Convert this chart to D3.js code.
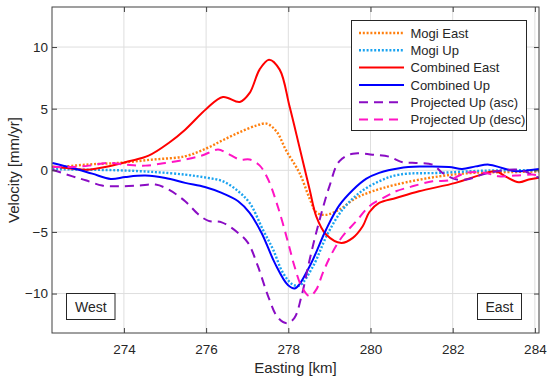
<!DOCTYPE html>
<html lang="en">

<head>
    <meta charset="UTF-8">
    <title>Velocity profile</title>
    <style>
        body { margin: 0; background: #fff; }
        text { font-family: "Liberation Sans", Arial, sans-serif; fill: #262626; }
    </style>
</head>

<body>
    <script type="text/javascript" src="https://cdn.jsdelivr.net/npm/d3@7"></script>
    <script type="text/javascript">
    // easting [km], velocity [mm/yr] pairs
    var mogiEast = [[272.26,0.2],[273.07,0.46],[273.88,0.6],[274.69,0.87],[275.49,1.14],[276.01,1.78],
        [276.41,2.45],[276.82,3.1],[277.22,3.63],[277.47,3.79],[277.71,3.16],[277.95,1.6],[278.27,-0.2],
        [278.52,-2.3],[278.68,-3.4],[278.9,-3.62],[279.24,-3.19],[279.65,-2.24],[280.05,-1.7],[280.62,-1.16],
        [281.67,-0.49],[282.48,-0.21],[283.28,-0.15],[284.1,-0.1]];

    var mogiUp = [[272.26,0.1],[273.07,0.05],[273.88,0.0],[274.69,-0.13],[275.49,-0.35],[276.01,-0.6],
        [276.41,-0.89],[276.78,-1.7],[277.06,-2.65],[277.38,-4.81],[277.63,-6.43],[277.87,-8.32],[278.1,-9.25],
        [278.27,-9.35],[278.6,-7.8],[278.95,-5.2],[279.32,-3.19],[279.73,-1.83],[280.21,-0.89],[280.7,-0.35],
        [281.67,-0.21],[282.88,-0.02],[284.1,0.0]];

    var combinedEast = [[272.26,0.3],[272.7,0.15],[273.1,0.05],[273.64,0.33],[274.12,0.73],[274.6,1.19],
        [275.09,2.22],[275.49,3.3],[276.01,5.0],[276.41,5.95],[276.82,5.55],[277.06,6.28],[277.3,8.17],
        [277.53,8.98],[277.79,8.17],[278.03,5.19],[278.27,1.9],[278.52,-1.57],[278.68,-3.73],[278.92,-5.21],
        [279.29,-5.89],[279.57,-5.48],[279.81,-4.54],[279.97,-3.4],[280.21,-2.65],[280.62,-2.24],[281.18,-1.7],
        [282.07,-1.02],[282.56,-0.49],[283.04,-0.08],[283.28,-0.49],[283.61,-0.97],[283.85,-0.75],[284.1,-0.6]];

    var combinedUp = [[272.26,0.6],[272.75,0.19],[273.23,-0.27],[273.68,-0.7],[274.04,-0.54],[274.52,-0.43],
        [275.01,-0.62],[275.49,-1.02],[275.97,-1.35],[276.38,-1.83],[276.78,-2.51],[277.06,-3.46],[277.35,-5.08],
        [277.67,-7.51],[277.99,-9.3],[278.17,-9.57],[278.52,-7.78],[278.92,-4.8],[279.24,-2.85],[279.57,-1.6],
        [279.89,-0.7],[280.21,-0.21],[280.7,0.17],[281.2,0.3],[281.91,0.27],[282.23,0.11],[282.56,0.32],
        [282.88,0.46],[283.2,0.19],[283.53,-0.08],[283.85,0.0],[284.1,0.11]];

    var projAsc = [[272.26,0.05],[272.75,-0.49],[273.07,-0.81],[273.47,-1.24],[273.88,-1.3],[274.36,-1.24],
        [274.77,-1.16],[275.09,-1.57],[275.49,-2.51],[275.82,-3.6],[276.06,-4.1],[276.38,-4.22],[276.78,-5.08],
        [277.02,-5.89],[277.26,-7.78],[277.51,-10.22],[277.75,-11.97],[277.97,-12.4],[278.15,-11.97],
        [278.32,-10.22],[278.52,-7.24],[278.72,-4.54],[279.0,-1.3],[279.24,0.73],[279.57,1.35],[280.05,1.27],
        [280.46,1.1],[280.78,0.65],[281.1,0.6],[281.51,0.46],[281.75,-0.21],[282.1,-0.75],[282.4,-0.7],
        [282.72,-0.35],[283.12,-0.05],[283.61,0.05],[283.93,-0.35],[284.1,-0.62]];

    var projDesc = [[272.26,0.27],[272.75,0.27],[273.15,0.38],[273.6,0.6],[274.04,0.46],[274.52,0.38],
        [275.01,0.6],[275.49,0.87],[275.9,1.2],[276.29,1.68],[276.5,1.41],[276.82,0.87],[277.06,0.87],
        [277.3,0.4],[277.51,-0.75],[277.75,-3.0],[277.99,-5.8],[278.15,-7.78],[278.32,-9.41],[278.52,-10.22],
        [278.68,-9.68],[278.84,-8.32],[279.05,-6.8],[279.32,-5.35],[279.65,-4.14],[279.97,-2.92],[280.38,-2.11],
        [280.62,-1.7],[281.02,-1.3],[281.51,-0.89],[281.91,-0.81],[282.32,-0.21],[282.8,-0.21],[283.12,-0.49],
        [283.53,-0.43],[283.93,-0.35],[284.1,-0.4]];

    var seriesNames = ["Mogi East", "Mogi Up", "Combined East", "Combined Up", "Projected Up (asc)", "Projected Up (desc)"];
    var xTicks = [274, 276, 278, 280, 282, 284];
    var yTicks = [-10, -5, 0, 5, 10];
    var sideLabels = ["West", "East"];

    var styles = [
        { color: "#ff7f0e", width: 2.4, dash: "2,1.8" },
        { color: "#1aa3f0", width: 2.4, dash: "2,1.8" },
        { color: "#ff0000", width: 2, dash: null },
        { color: "#0000ff", width: 2, dash: null },
        { color: "#8a0cc4", width: 2, dash: "9,6" },
        { color: "#ff14c4", width: 2, dash: "9,6" }
    ];
    var seriesData = [mogiEast, mogiUp, combinedEast, combinedUp, projAsc, projDesc];

    var w = 550,
        h = 381,
        plotL = 52, plotR = 539, plotT = 7, plotB = 333;

    var x = d3.scaleLinear().domain([272.25, 284.1]).range([plotL, plotR]);
    var y = d3.scaleLinear().domain([-13.2, 13.25]).range([plotB, plotT]);

    var svg = d3.select("body")
        .append("svg")
        .attr("width", w)
        .attr("height", h);

    svg.append("defs").append("clipPath")
        .attr("id", "plotclip")
        .append("rect")
        .attr("x", plotL).attr("y", plotT)
        .attr("width", plotR - plotL).attr("height", plotB - plotT);

    // grid
    svg.append("g").selectAll("line")
        .data(xTicks).enter().append("line")
        .attr("x1", d => x(d)).attr("x2", d => x(d))
        .attr("y1", plotT).attr("y2", plotB)
        .attr("stroke", "#dedede").attr("stroke-width", 1);
    svg.append("g").selectAll("line")
        .data(yTicks).enter().append("line")
        .attr("x1", plotL).attr("x2", plotR)
        .attr("y1", d => y(d)).attr("y2", d => y(d))
        .attr("stroke", "#dedede").attr("stroke-width", 1);

    var line = d3.line()
        .x(d => x(d[0]))
        .y(d => y(d[1]))
        .curve(d3.curveCatmullRom.alpha(0.5));

    svg.append("g")
        .attr("clip-path", "url(#plotclip)")
        .selectAll("path")
        .data(seriesData)
        .enter()
        .append("path")
        .attr("d", d => line(d))
        .attr("fill", "none")
        .attr("stroke", (d, i) => styles[i].color)
        .attr("stroke-width", (d, i) => styles[i].width)
        .attr("stroke-dasharray", (d, i) => styles[i].dash)
        .attr("stroke-linejoin", "round");

    // axes, ticks pointing inward on all four sides
    function styleAxis(g) {
        g.select(".domain").remove();
        g.selectAll(".tick line").attr("stroke", "#404040");
        g.selectAll("text").attr("font-size", "13.5px").attr("fill", "#262626")
            .attr("font-family", "Liberation Sans, Arial, sans-serif");
    }
    svg.append("g")
        .attr("transform", "translate(0," + plotB + ")")
        .call(d3.axisBottom(x).tickValues(xTicks).tickSizeInner(-5).tickSizeOuter(0).tickPadding(11))
        .call(styleAxis);
    svg.append("g")
        .attr("transform", "translate(0," + plotT + ")")
        .call(d3.axisTop(x).tickValues(xTicks).tickSizeInner(-5).tickSizeOuter(0).tickFormat(""))
        .call(styleAxis);
    svg.append("g")
        .attr("transform", "translate(" + plotL + ",0)")
        .call(d3.axisLeft(y).tickValues(yTicks).tickSizeInner(-5).tickSizeOuter(0).tickPadding(4))
        .call(styleAxis);
    svg.append("g")
        .attr("transform", "translate(" + plotR + ",0)")
        .call(d3.axisRight(y).tickValues(yTicks).tickSizeInner(-5).tickSizeOuter(0).tickFormat(""))
        .call(styleAxis);

    svg.append("rect")
        .attr("x", plotL).attr("y", plotT)
        .attr("width", plotR - plotL).attr("height", plotB - plotT)
        .attr("fill", "none").attr("stroke", "#404040").attr("stroke-width", 1);

    svg.append("text")
        .attr("x", (plotL + plotR) / 2).attr("y", 373)
        .attr("text-anchor", "middle").attr("font-size", "15px")
        .text("Easting [km]");
    svg.append("text")
        .attr("transform", "translate(18.5," + (plotT + plotB) / 2 + ") rotate(-90)")
        .attr("text-anchor", "middle").attr("font-size", "15px")
        .text("Velocity [mm/yr]");

    // West / East boxes
    var boxes = [{ x: 66.5, w: 48.5 }, { x: 477.5, w: 44 }];
    sideLabels.forEach(function(t, i) {
        svg.append("rect")
            .attr("x", boxes[i].x).attr("y", 293.5)
            .attr("width", boxes[i].w).attr("height", 26)
            .attr("fill", "#fff").attr("stroke", "#262626").attr("stroke-width", 1);
        svg.append("text")
            .attr("x", boxes[i].x + boxes[i].w / 2).attr("y", 312)
            .attr("text-anchor", "middle").attr("font-size", "14px")
            .text(t);
    });

    // legend
    var legend = svg.append("g");
    legend.append("rect")
        .attr("x", 351.5).attr("y", 20.5)
        .attr("width", 175).attr("height", 110)
        .attr("fill", "#fff").attr("stroke", "#262626").attr("stroke-width", 1);
    var rows = legend.selectAll("g")
        .data(seriesNames)
        .enter()
        .append("g")
        .attr("transform", (d, i) => "translate(0," + (33 + i * 17.3) + ")");
    rows.append("line")
        .attr("x1", 359).attr("x2", 404)
        .attr("stroke", (d, i) => styles[i].color)
        .attr("stroke-width", (d, i) => styles[i].width)
        .attr("stroke-dasharray", (d, i) => styles[i].dash);
    rows.append("text")
        .attr("x", 410.5).attr("y", 4.6)
        .attr("font-size", "13px")
        .text(d => d);
    </script>
</body>

</html>
